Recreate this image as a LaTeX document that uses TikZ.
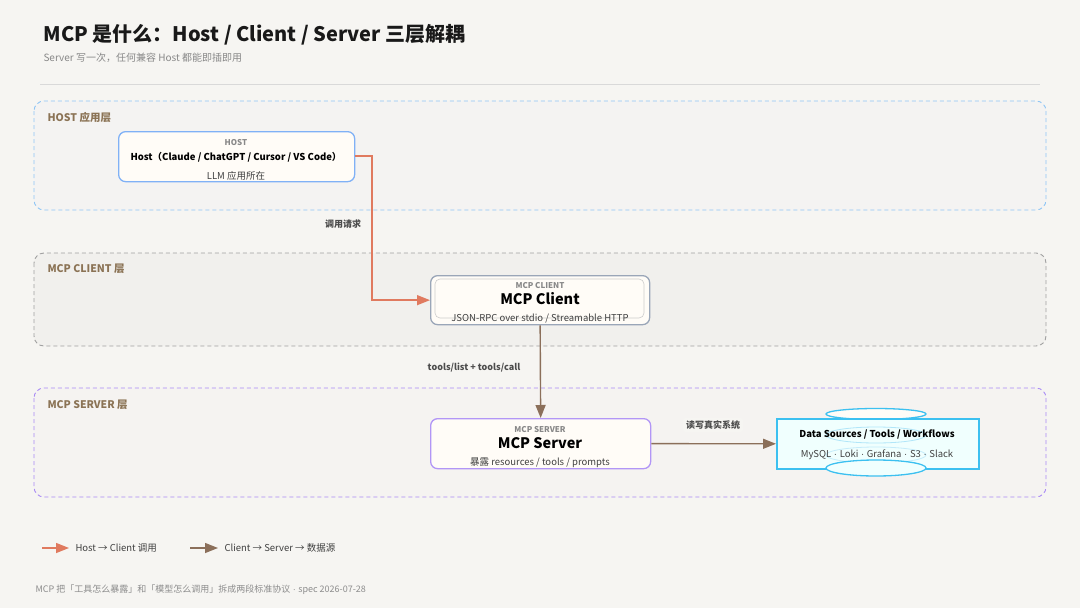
\documentclass[tikz,border=0pt]{standalone}
\usepackage{fontspec}
\setmainfont{Noto Sans CJK SC}
\newfontfamily\latinf{Liberation Sans}
\usetikzlibrary{arrows.meta}
\definecolor{bg}{HTML}{F6F5F2}
\definecolor{brownlab}{HTML}{8B7355}
\definecolor{orangeA}{HTML}{E07A5F}
\definecolor{brownA}{HTML}{8B6F5A}
\definecolor{hostb}{HTML}{8EC5F5}
\definecolor{cliL}{HTML}{A0A0A0}
\definecolor{srvL}{HTML}{A98AF5}
\definecolor{nodefill}{HTML}{FFFCF7}
\definecolor{tgray}{HTML}{888888}
\definecolor{dsb}{HTML}{3CC0F0}
\definecolor{clib}{HTML}{9AA6B8}
\newcommand{\dotsep}{{\latinf\ ·\ }}
\tikzset{
 x=1pt,y=-1pt,
 layer/.style={draw, dash pattern=on 4pt off 3pt, line width=0.9pt, rounded corners=10pt},
 laylab/.style={anchor=west, text=brownlab, font=\fontsize{10.5}{12}\selectfont\bfseries},
 box/.style={draw, line width=1.3pt, rounded corners=7pt, fill=nodefill},
 small/.style={font=\fontsize{8}{10}\selectfont\bfseries, text=tgray},
 mid/.style={font=\fontsize{9.5}{11}\selectfont, text=black!75},
 big/.style={font=\fontsize{14.5}{16}\selectfont\bfseries},
 oarr/.style={draw=orangeA, line width=1.4pt, -{Triangle[length=13pt,width=10pt]}},
 barr/.style={draw=brownA, line width=1.4pt, -{Triangle[length=13pt,width=10pt]}},
 elab/.style={font=\fontsize{9}{11}\selectfont\bfseries, text=black!70},
}
\begin{document}
\begin{tikzpicture}
\path[fill=bg] (0,0) rectangle (1080,608);
\useasboundingbox (0,0) rectangle (1080,608);
\node[anchor=base west, font=\fontsize{20}{24}\selectfont\bfseries, text=black!90] (title) at (40,41) {MCP 是什么：Host / Client / Server 三层解耦};
\node[anchor=base west, font=\fontsize{10}{12}\selectfont, text=tgray] (sub) at (40,61) {Server 写一次，任何兼容 Host 都能即插即用};
\draw[black!15, line width=0.8pt] (40,84) -- (1040,84);
% layers
\draw[layer, draw=hostb, fill=black!2!blue!1!bg] (34,101) rectangle (1046,210);
\node[laylab] (l1) at (44,117) {HOST 应用层};
\draw[layer, draw=cliL, fill=black!2!bg] (34,253) rectangle (1046,346);
\node[laylab] (l2) at (44,269) {MCP CLIENT 层};
\draw[layer, draw=srvL, fill=black!2!violet!1!bg] (34,388) rectangle (1046,497);
\node[laylab] (l3) at (44,405) {MCP SERVER 层};
% host
\node[box, draw=hostb!90!blue, minimum width=236pt, minimum height=50pt, anchor=north west] (host) at (118,131) {};
\node[small] at (236,143) {HOST};
\node[font=\fontsize{9.5}{11}\selectfont\bfseries] at (236,157) {Host（Claude / ChatGPT / Cursor / VS Code）};
\node[mid] at (236,176) {LLM 应用所在};
% client
\node[box, draw=clib, minimum width=219pt, minimum height=49pt, anchor=north west] (client) at (430,275) {};
\draw[black!20, rounded corners=5pt, line width=0.6pt] (435,279) rectangle (644,318);
\node[small] at (540,286) {MCP CLIENT};
\node[big] at (540,299) {MCP Client};
\node[mid] at (540,319) {JSON-RPC over stdio / Streamable HTTP};
% server
\node[box, draw=srvL!90!white, minimum width=220pt, minimum height=50pt, anchor=north west] (server) at (430,418) {};
\node[small] at (540,430) {MCP SERVER};
\node[big] at (540,443) {MCP Server};
\node[mid] at (540,463) {暴露 resources / tools / prompts};
% data
\draw[dsb, line width=1.3pt, fill=nodefill] (876,414) ellipse (50pt and 5.5pt);
\node[draw=dsb, line width=1.6pt, fill=green!5!cyan!6!white, minimum width=202pt, minimum height=50pt, anchor=north west] (data) at (776,418) {};
\draw[dsb!40, line width=0.8pt] (876,435) ellipse (50pt and 8pt);
\draw[dsb!30, line width=0.8pt] (876,455) ellipse (50pt and 8pt);
\draw[dsb, line width=1.3pt, fill=green!5!cyan!6!white] (876,468) ellipse (50pt and 8pt);
\node[font=\fontsize{9.5}{11}\selectfont\bfseries] at (877,435) {Data Sources / Tools / Workflows};
\node[mid] at (877,455) {MySQL\dotsep Loki\dotsep Grafana\dotsep S3\dotsep Slack};
% arrows
\coordinate (h1) at (372,156);
\draw[oarr] (host.east |- h1) -- (h1) -- (h1 |- client.west) -- (client.west);
\node[elab] at (343,224) {调用请求};
\draw[barr] (client.south) -- (server.north);
\node[elab] at (474,368) {tools/list + tools/call};
\draw[barr] (server.east) -- (data.west);
\node[elab, fill=bg, rounded corners=3pt, inner sep=3pt] at (713,425) {读写真实系统};
% legend
\coordinate (a1) at (42,548); \coordinate (a2) at (69,548);
\draw[oarr] (a1) -- (a2);
\node[anchor=west, mid] at (72,548) {Host → Client 调用};
\coordinate (b1) at (190,548); \coordinate (b2) at (218,548);
\draw[barr] (b1) -- (b2);
\node[anchor=west, mid] at (221,548) {Client → Server → 数据源};
\node[anchor=west, font=\fontsize{9}{10}\selectfont, text=black!45] (foot) at (32,590) {MCP 把「工具怎么暴露」和「模型怎么调用」拆成两段标准协议\dotsep spec 2026-07-28};
\end{tikzpicture}
\end{document}
